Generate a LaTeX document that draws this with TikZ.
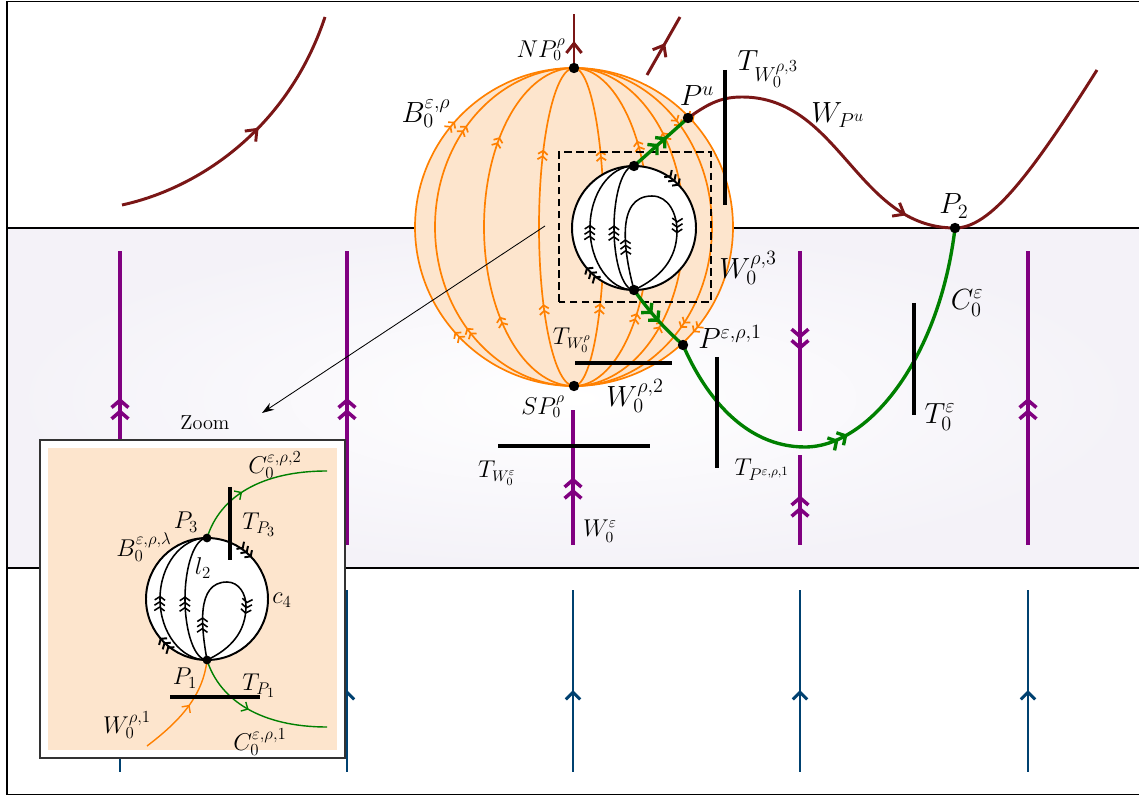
\documentclass[tikz,border=0pt]{standalone}
\usetikzlibrary{arrows.meta,decorations.markings}
\definecolor{wine}{RGB}{122,22,22}
\definecolor{leaf}{RGB}{0,128,0}
\definecolor{amber}{RGB}{255,128,0}
\definecolor{peach}{RGB}{253,229,205}
\definecolor{plum}{RGB}{128,0,128}
\definecolor{navy}{RGB}{0,65,112}
\definecolor{mist}{RGB}{244,242,248}
\begin{document}
\begin{tikzpicture}[x=0.025cm, y=0.025cm,
    wtip/.tip={Straight Barb[length=2.4mm,width=3.8mm]},
    ptip/.tip={Straight Barb[length=1.8mm,width=4.2mm] Straight Barb[length=1.8mm,width=4.2mm]},
    btip/.tip={Straight Barb[length=1.8mm,width=3.6mm]},
    gtip/.tip={Straight Barb[length=1.6mm,width=3.6mm] Straight Barb[length=1.6mm,width=3.6mm]},
    otip/.tip={Straight Barb[length=0.9mm,width=2.4mm] Straight Barb[length=0.9mm,width=2.4mm]},
    ktip/.tip={Straight Barb[length=0.9mm,width=2.6mm] Straight Barb[length=0.9mm,width=2.6mm] Straight Barb[length=0.9mm,width=2.6mm]},
    stip/.tip={Straight Barb[length=1.3mm,width=2.6mm]},
    warr/.style={postaction={decorate,decoration={markings,mark=at position #1 with {\arrow{wtip}}}}},
    parr/.style={postaction={decorate,decoration={markings,mark=at position #1 with {\arrow{ptip}}}}},
    barr/.style={postaction={decorate,decoration={markings,mark=at position #1 with {\arrow{btip}}}}},
    garr/.style={postaction={decorate,decoration={markings,mark=at position #1 with {\arrow{gtip}}}}},
    karr/.style={postaction={decorate,decoration={markings,mark=at position #1 with {\arrow{ktip}}}}},
    sarr/.style={postaction={decorate,decoration={markings,mark=at position #1 with {\arrow{stip}}}}},
    oarr/.style={postaction={decorate,decoration={markings,
        mark=at position 0.27 with {\arrow{otip}},
        mark=at position 0.73 with {\arrow{otip}}}}},
    kround/.style={postaction={decorate,decoration={markings,
        mark=at position 0.13 with {\arrow{ktip}},
        mark=at position 0.64 with {\arrow{ktip}}}}},
    kloop/.style={postaction={decorate,decoration={markings,
        mark=at position 0.22 with {\arrow{ktip}},
        mark=at position 0.68 with {\arrow{ktip}}}}},
    wineln/.style={draw=wine, line width=2.1pt},
    plumln/.style={draw=plum, line width=2.5pt},
    navyln/.style={draw=navy, line width=2.1pt},
    leafln/.style={draw=leaf, line width=2.4pt},
    merid/.style={draw=amber, line width=1.2pt},
    inkln/.style={draw=black, line width=1.4pt},
    inkthin/.style={draw=black, line width=1.1pt},
    bar/.style={draw=black, line width=3.4pt},
    dot/.style={circle, fill=black, inner sep=0pt, minimum size=2.6mm},
    sdot/.style={circle, fill=black, inner sep=0pt, minimum size=2.2mm},
    lbig/.style={font=\huge},
    lmid/.style={font=\fontsize{16}{19}\selectfont},
    lins/.style={font=\LARGE}]
  \useasboundingbox (0,0) rectangle (1139,796);
  \shade[inner color=white, outer color=mist] (7,228) rectangle (1139,568);
  \draw[line width=1.4pt] (7,1.5) rectangle (1142,794.5);
  \draw[line width=1.1pt] (7,568) -- (1139,568);
  \draw[line width=1.1pt] (7,228) -- (1139,228);

  \foreach \x in {120,347,1028}
    \draw[plumln, parr=0.5] (\x,251) -- (\x,545);
  \draw[plumln, parr=0.5] (573,251) -- (573,386);
  \draw[plumln, parr=0.55] (800,251) -- (800,341);
  \draw[plumln, parr=0.55] (800,545) -- (800,365);
  \foreach \x in {120,347,573,800,1028}
    \draw[navyln, barr=0.45] (\x,24) -- (\x,206);

  \coordinate (sc) at (574,569);
  \coordinate (NP) at (574,728);
  \coordinate (SP) at (574,410);
  \coordinate (Pu) at (688,678);
  \coordinate (P2) at (955,568);
  \coordinate (Pe) at (683,451);
  \coordinate (ic) at (634,568);
  \coordinate (Pt) at (634,630);
  \coordinate (Pb) at (634,506);
  \coordinate (nptop) at (574,782);
  \coordinate (ms1) at (647,721);
  \coordinate (ms2) at (680,779);
  \coordinate (wl1) at (122,591);
  \coordinate (wl2) at (325,779);
  \coordinate (whump) at (742,699);
  \coordinate (wend) at (1097,726);
  \coordinate (gbot) at (805,349);

  \draw[wineln, warr=0.55] (wl1) .. controls (200,608) and (288,668) .. (wl2);
  \draw[wineln, warr=0.55] (ms1) -- (ms2);

  \fill[peach] (sc) circle (159);
  \draw[merid, oarr] (SP) arc[start angle=270, end angle=90, radius=159];
  \draw[merid, oarr] (NP) arc[start angle=90, end angle=-90, radius=159];
  \foreach \a in {139,90,35}
    \draw[merid, oarr] (SP) arc[start angle=270, end angle=90, x radius=\a, y radius=159];
  \foreach \a in {30,75,110}
    \draw[merid, oarr] (SP) arc[start angle=-90, end angle=90, x radius=\a, y radius=159];
  \draw[merid, oarr] (NP) arc[start angle=90, end angle=-90, x radius=138, y radius=159];
  \draw[wineln, warr=0.5] (NP) -- (nptop);

  \fill[white] (ic) circle (62);
  \foreach \a in {44,20}
    \draw[inkthin, karr=0.52] (Pb) arc[start angle=270, end angle=90, x radius=\a, y radius=62];
  \draw[inkthin, kloop] (Pb) to[out=105,in=180] (652,600) to[out=0,in=90] (677,565) to[out=270,in=25] (Pb);
  \draw[inkln, kround] (Pt) arc[start angle=90, end angle=-270, radius=62];
  \draw[line width=1.1pt, dash pattern=on 5.5pt off 3pt] (559,494) rectangle (711,644);

  \draw[leafln, garr=0.6] (Pt) -- (Pu);
  \draw[leafln, garr=0.55] (Pb) to[bend right=6] (Pe);
  \draw[leafln, garr=0.47] (Pe) .. controls (705,400) and (745,349) .. (gbot) .. controls (870,349) and (940,440) .. (P2);
  \draw[wineln, warr=0.84] (Pu) to[out=35,in=180] (whump) to[out=0,in=180] (P2);
  \draw[wineln] (P2) .. controls (990,568) and (1030,620) .. (wend);

  \draw[bar] (725,726) -- (725,591);
  \draw[bar] (575,433) -- (672,433);
  \draw[bar] (498,350) -- (650,350);
  \draw[bar] (717,439) -- (717,328);
  \draw[bar] (914,493) -- (914,381);

  \node[dot] (NPd) at (NP) {};
  \node[dot] (SPd) at (SP) {};
  \node[dot] (Pud) at (Pu) {};
  \node[dot] (P2d) at (P2) {};
  \node[dot] (Ped) at (Pe) {};
  \node[dot] (Ptd) at (Pt) {};
  \node[dot] (Pbd) at (Pb) {};

  \node[lmid] (lNP) at (541,746) {$NP_0^{\rho}$};
  \node[lbig] (lB) at (426,682) {$B_0^{\varepsilon,\rho}$};
  \node[lbig] (lPu) at (697,700) {$P^u$};
  \node[lbig] (lTw3) at (768,727) {$T_{W_0^{\rho,3}}$};
  \node[lbig] (lWPu) at (838,681) {$W_{P^u}$};
  \node[lbig] (lP2) at (954,590) {$P_2$};
  \node[lbig] (lW3) at (748,528) {$W_0^{\rho,3}$};
  \node[lbig] (lC) at (967,493) {$C_0^{\varepsilon}$};
  \node[lbig] (lPe) at (730,459) {$P^{\varepsilon,\rho,1}$};
  \node[lbig] (lT0) at (940,379) {$T_0^{\varepsilon}$};
  \node[font=\fontsize{18.5}{22}\selectfont] (lTPe) at (762,326) {$T_{P^{\varepsilon,\rho,1}}$};
  \node[lbig] (lW2) at (635,400) {$W_0^{\rho,2}$};
  \node[lmid] (lSP) at (543,389) {$SP_0^{\rho}$};
  \node[lmid] (lTWe) at (497,323) {$T_{W_0^{\varepsilon}}$};
  \node[lmid] (lWe) at (600,265) {$W_0^{\varepsilon}$};
  \node[lmid] (lTWr) at (572,456) {$T_{W_0^{\rho}}$};
  \node[font=\Large] (lzoom) at (205,373) {Zoom};

  \coordinate (zsrc) at (545,570);
  \coordinate (ztip) at (262,383);
  \draw[line width=0.6pt, -{Stealth[length=3mm,width=2mm]}] (zsrc) -- (ztip);

  \draw[black!80, line width=0.8pt, fill=white] (40,38) rectangle (345,356);
  \fill[peach] (48,46) rectangle (337,348);
  \coordinate (jc) at (207,197);
  \coordinate (iP3) at (207,258);
  \coordinate (iP1) at (207,136);
  \coordinate (ig2) at (327,325);
  \coordinate (ig1) at (327,69);
  \coordinate (iw1) at (147,50);
  \fill[white] (jc) circle (61);
  \foreach \a in {47,22}
    \draw[inkthin, karr=0.52] (iP1) arc[start angle=270, end angle=90, x radius=\a, y radius=61];
  \draw[inkthin, kloop] (iP1) to[out=100,in=180] (227,214) to[out=0,in=90] (246,190) to[out=270,in=25] (iP1);
  \draw[inkln, kround] (iP3) arc[start angle=90, end angle=-270, radius=61];
  \draw[leaf, line width=1pt, sarr=0.4] (iP3) .. controls (220,300) and (262,325) .. (ig2);
  \draw[leaf, line width=1pt, sarr=0.45] (iP1) .. controls (220,95) and (262,69) .. (ig1);
  \draw[amber, line width=1pt, sarr=0.55] (iw1) .. controls (180,75) and (203,100) .. (iP1);
  \draw[bar] (230,309) -- (230,236);
  \draw[bar] (170,99) -- (260,99);
  \node[sdot] (iP3d) at (iP3) {};
  \node[sdot] (iP1d) at (iP1) {};

  \node[lins] (lC2) at (275,331) {$C_0^{\varepsilon,\rho,2}$};
  \node[lins] (lTP3) at (259,271) {$T_{P_3}$};
  \node[lins] (lP3) at (186,274) {$P_3$};
  \node[lins] (lBl) at (144,249) {$B_0^{\varepsilon,\rho,\lambda}$};
  \node[lins] (ll2) at (203,228) {$l_2$};
  \node[lins] (lc4) at (282,196) {$c_4$};
  \node[lins] (lP1) at (185,118) {$P_1$};
  \node[lins] (lTP1) at (259,110) {$T_{P_1}$};
  \node[lins] (lW1) at (127,71) {$W_0^{\rho,1}$};
  \node[lins] (lC1) at (260,54) {$C_0^{\varepsilon,\rho,1}$};
\end{tikzpicture}
\end{document}
